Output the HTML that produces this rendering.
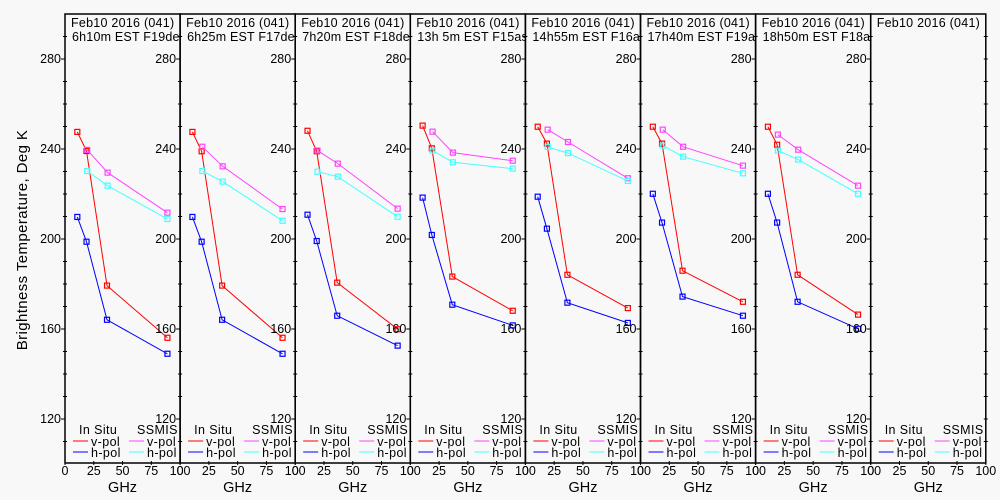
<!DOCTYPE html>
<html><head><meta charset="utf-8"><style>
html,body{margin:0;padding:0;background:#f8f8f8;}
svg{display:block;font-family:"Liberation Sans",sans-serif;}
</style></head><body>
<svg id="chart" width="1000" height="500" xmlns="http://www.w3.org/2000/svg">
<rect width="1000" height="500" fill="#f8f8f8"/>
<text x="27" y="240" font-size="15" letter-spacing="0.4" text-anchor="middle" transform="rotate(-90 27 240)">Brightness Temperature, Deg K</text>
</svg>
<script>
const titles2 = ["6h10m EST F19des","6h25m EST F17des","7h20m EST F18des","13h 5m EST F15asc","14h55m EST F16asc","17h40m EST F19asc","18h50m EST F18asc",""];
const inFreq = [10.7, 18.7, 36.5, 89];
const ssFreq = [19.35, 37, 89];
const vpol = [[247.6,239.1,179.3,156.1],[247.6,239.0,179.3,156.1],[248.1,239.0,180.6,159.9],[250.4,240.3,183.3,168.1],[249.9,242.4,184.1,169.3],[249.9,242.4,185.9,172.1],[249.9,241.9,184.1,166.4],null];
const hpol = [[209.8,198.8,164.1,149.0],[209.8,198.8,164.1,149.0],[210.8,199.1,165.9,152.6],[218.4,201.8,170.8,161.6],[218.8,204.6,171.7,162.7],[220.1,207.3,174.4,165.9],[220.1,207.3,172.1,160.1],null];
const ssV = [[239.6,229.5,211.7],[241.0,232.3,213.3],[239.3,233.5,213.5],[247.7,238.4,234.8],[248.6,243.1,227.0],[248.6,241.0,232.6],[246.4,239.7,223.7],null];
const ssH = [[230.2,223.7,208.9],[230.2,225.5,208.1],[229.9,227.7,209.9],[239.3,234.1,231.3],[240.9,238.2,225.8],[241.5,236.6,229.2],[239.3,235.3,220.1],null];
const yTicks = [120,160,200,240,280];
const xTicks = [0,25,50,75,100];

const NS="http://www.w3.org/2000/svg";
const svg=document.getElementById('chart');
const X0=65, PW=115.1, TOP=14, BOT=463;
function yS(t){return 59+(280-t)*2.25;}
function xS(p,f){return X0+p*PW+f/100*PW;}
function mk(tag,attrs,parent){const e=document.createElementNS(NS,tag);for(const k in attrs)e.setAttribute(k,attrs[k]);(parent||svg).appendChild(e);return e;}

for(let p=0;p<8;p++){
  const g=mk('g',{});
  
  
  const x0=X0+p*PW, x1=x0+PW;
  const cid='clip'+p;
  const cp=mk('clipPath',{id:cid},g); mk('rect',{x:x0,y:TOP,width:PW,height:BOT-TOP},cp);
  const fr=mk('rect',{x:x0,y:TOP,width:PW,height:BOT-TOP,fill:'none',stroke:'#000','stroke-width':1.5},g);
  
  
  for(let t=110;t<=290;t+=10){
    const y=yS(t);
    if(t%40===0){ mk('line',{x1:x0-4,x2:x0,y1:y,y2:y,stroke:'#000'},g);
      const lb=mk('text',{x:x0-4,y:y+4,'font-size':12.5,'text-anchor':'end'},g); lb.textContent=t;
      
      
    } else mk('line',{x1:x0-2,x2:x0+2,y1:y,y2:y,stroke:'#000'},g);
    if(p===7) mk('line',{x1:x1-2,x2:x1+2,y1:y,y2:y,stroke:'#000'},g);
  }
  xTicks.forEach(v=>{
    const x=xS(p,v);
    mk('line',{x1:x,x2:x,y1:BOT-2,y2:BOT+2,stroke:'#000'},g);
    const lb=mk('text',{x:x,y:475,'font-size':12.5,'text-anchor':'middle'},g); lb.textContent=v;
    
    
  });
  const gx=mk('text',{x:x0+PW/2,y:492,'font-size':14.5,'text-anchor':'middle'},g); gx.textContent='GHz';
  
  
  const tg=mk('g',{'clip-path':'url(#'+cid+')'},g);
  const t1=mk('text',{x:x0+6,y:27,'font-size':12.5,'letter-spacing':0.25},tg); t1.textContent='Feb10 2016 (041)';
  
  
  const t2=mk('text',{x:x0+7,y:41,'font-size':12.5,'letter-spacing':0.2},tg); t2.textContent=titles2[p];
  
  
  const series=[[vpol[p],inFreq,'#ff0000','in-situ-v-pol'],[hpol[p],inFreq,'#0000ff','in-situ-h-pol'],[ssV[p],ssFreq,'#ff44ff','ssmis-v-pol'],[ssH[p],ssFreq,'#44ffff','ssmis-h-pol']];
  series.forEach(([vals,fr2,col,name])=>{
    if(!vals)return;
    const pts=vals.map((v,i)=>xS(p,fr2[i]).toFixed(1)+','+yS(v).toFixed(1)).join(' ');
    const pl=mk('polyline',{points:pts,fill:'none',stroke:col,'stroke-width':1},g);
    
    
    vals.forEach((v,i)=>{
      const r=mk('rect',{x:xS(p,fr2[i])-2.5,y:yS(v)-2.5,width:5,height:5,fill:'none',stroke:col,'stroke-width':1.2},g);
      
      
    });
  });
  const lg=mk('g',{'font-size':12.5,'letter-spacing':0.4},g);
  
  
  const a=mk('text',{x:x0+14,y:434},lg); a.textContent='In Situ';
  const b=mk('text',{x:x0+72,y:434},lg); b.textContent='SSMIS';
  [['#ff0000',x0+8,446,'v-pol'],['#0000ff',x0+8,457,'h-pol'],['#ff44ff',x0+64,446,'v-pol'],['#44ffff',x0+64,457,'h-pol']].forEach(([c,x,y,txt])=>{
    mk('line',{x1:x,x2:x+15,y1:y-5,y2:y-5,stroke:c},lg);
    const t=mk('text',{x:x+18,y:y},lg); t.textContent=txt;
    
    
  });
}
</script>
</body></html>
